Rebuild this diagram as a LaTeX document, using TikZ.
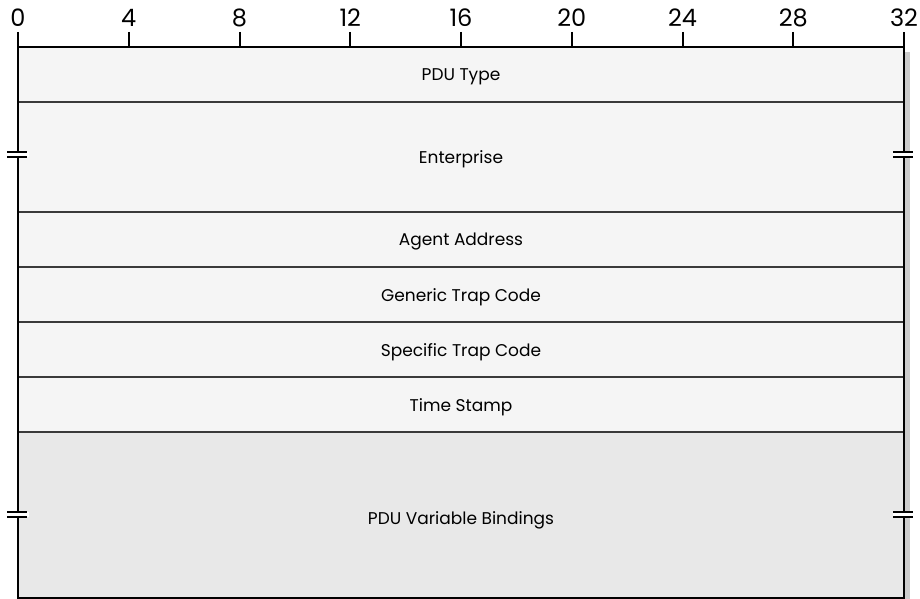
\documentclass[tikz,border=0pt]{standalone}
\usepackage{fontspec}
\setmainfont{Poppins}
\usetikzlibrary{positioning}
\definecolor{rowfill}{HTML}{F5F5F5}
\definecolor{bindfill}{HTML}{E8E8E8}
\definecolor{rowline}{HTML}{3A3A3A}

\begin{document}
\begin{tikzpicture}[x=1pt, y=-1pt,
  field/.style={font=\fontsize{17}{19}\selectfont},
  bitnum/.style={font=\fontsize{24}{26}\selectfont, anchor=base}]
\useasboundingbox (0,0) rectangle (920,599);
% shadow and fills
\fill[gray!40] (904,52) rectangle (910,599);
\fill[rowfill] (18,47) rectangle (904,432);
\fill[bindfill] (18,432) rectangle (904,598);
% field separators
\foreach \y in {102,212,267,322,377,432}
    \draw[rowline, line width=1.3pt] (18,\y) -- (904,\y);
% frame and bit ruler
\draw[line width=2pt] (18,47) -- (904,47);
\draw[line width=2pt] (18,32) -- (18,598) -- (904,598) -- (904,32);
\foreach \i in {1,...,7}
    \draw[line width=2pt] (18+\i*110.75,32) -- (18+\i*110.75,47);
\foreach \i/\b in {0/0,1/4,2/8,3/12,4/16,5/20,6/24,7/28,8/32}
    \node[bitnum] (bit\b) at (18+\i*110.75,27) {\b};
% break marks
\foreach \x/\y in {18/154.2, 904/154.2, 18/514, 904/514} {
    \fill[white] (\x-11,\y-2.5) rectangle (\x+11,\y+2.5);
    \draw[line width=2pt] (\x-11,\y-2.5) -- (\x+9,\y-2.5);
    \draw[line width=2pt] (\x-11,\y+2.5) -- (\x+9,\y+2.5);
}
% field labels
\node[field] (pdutype) at (461,77) {PDU Type};
\node[field] (enterprise) at (461,159.5) {Enterprise};
\node[field] (agentaddr) at (461,242) {Agent Address};
\node[field] (generic) at (461,297) {Generic Trap Code};
\node[field] (specific) at (461,352) {Specific Trap Code};
\node[field] (timestamp) at (461,407) {Time Stamp};
\node[field] (bindings) at (461,520) {PDU Variable Bindings};
\end{tikzpicture}
\end{document}
